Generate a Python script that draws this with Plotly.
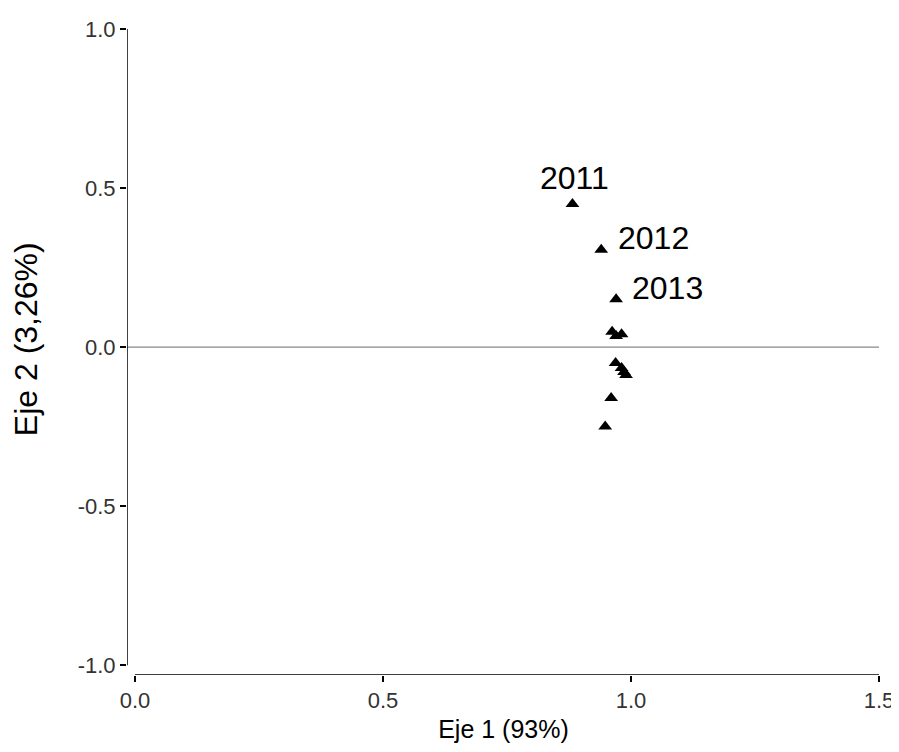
import plotly.graph_objects as go

# Data
eje1 = [0.882, 0.940, 0.970, 0.962, 0.970, 0.981, 0.969, 0.981, 0.986, 0.990, 0.960, 0.948]
eje2 = [0.450, 0.306, 0.150, 0.048, 0.035, 0.040, -0.050, -0.066, -0.078, -0.088, -0.160, -0.250]
labels = ["2011", "2012", "2013", "", "", "", "", "", "", "", "", ""]
x_ticks = [0.0, 0.5, 1.0, 1.5]
y_ticks = [-1.0, -0.5, 0.0, 0.5, 1.0]
x_title = "Eje 1 (93%)"
y_title = "Eje 2 (3,26%)"

FONT = "Liberation Sans, Arial, sans-serif"

x_left = -0.016
y_bottom = -1.031

fig = go.Figure()
fig.add_trace(go.Scatter(
    x=eje1, y=eje2, mode="markers",
    marker=dict(symbol="triangle-up", size=12, color="black"),
    hoverinfo="skip", showlegend=False,
))

# labels
offsets = {"2011": (2, -26, "center"), "2012": (15, -12, "left"), "2013": (14, -11, "left")}
for xv, yv, lab in zip(eje1, eje2, labels):
    if lab:
        dx, dy, anc = offsets[lab]
        fig.add_annotation(x=xv, y=yv, text=lab, showarrow=False, xshift=dx, yshift=-dy,
                           xanchor=anc, yanchor="middle",
                           font=dict(family=FONT, size=32, color="black"))

# y axis title as rotated annotation
fig.add_annotation(x=-0.134, y=0.52, xref="paper", yref="paper", text=y_title,
                   textangle=-90, showarrow=False, xanchor="center", yanchor="middle",
                   font=dict(family=FONT, size=32, color="black"))

# zero line
fig.add_shape(type="line", x0=x_left, x1=1.5, y0=0, y1=0, xref="x", yref="y",
              line=dict(color="#888888", width=1.2))
# axis lines
fig.add_shape(type="line", x0=x_left, x1=x_left, y0=-1.0, y1=1.0, xref="x", yref="y",
              line=dict(color="black", width=1.5))
fig.add_shape(type="line", x0=0.0, x1=1.5, y0=y_bottom, y1=y_bottom, xref="x", yref="y",
              line=dict(color="black", width=1.5))

fig.update_xaxes(range=[x_left, 1.502], tickvals=x_ticks, ticktext=[f"{v:.1f}" for v in x_ticks],
                 showgrid=False, zeroline=False, showline=False,
                 ticks="outside", ticklen=6, tickwidth=1.5, tickcolor="black",
                 tickfont=dict(family=FONT, size=22, color="#333333"),
                 title=dict(text=x_title, font=dict(family=FONT, size=25, color="black"), standoff=8))
fig.update_yaxes(range=[y_bottom, 1.0], tickvals=y_ticks, ticktext=[f"{v:.1f}" for v in y_ticks],
                 showgrid=False, zeroline=False, showline=False,
                 ticks="outside", ticklen=6, tickwidth=1.5, tickcolor="black",
                 tickfont=dict(family=FONT, size=22, color="#333333"))

# page body has an 8px margin, so the figure is sized and offset to fit the 899x752 window
fig.update_layout(
    width=891, height=744,
    margin=dict(l=119, r=19, t=21, b=77, autoexpand=False),
    plot_bgcolor="white", paper_bgcolor="white",
)

fig.write_html("out.html")
